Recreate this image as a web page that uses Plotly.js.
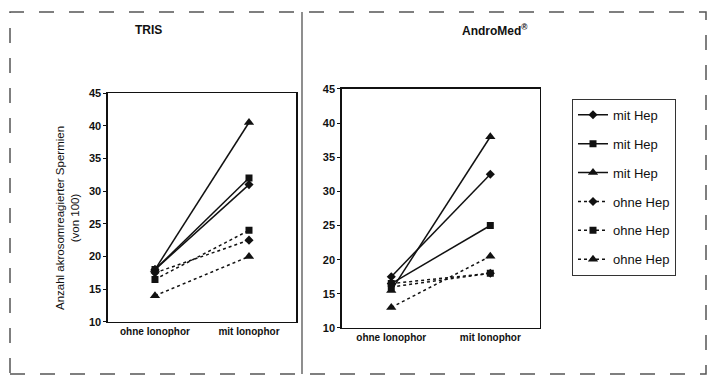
<!DOCTYPE html>
<html><head><meta charset="utf-8">
<script src="https://cdn.plot.ly/plotly-3.0.1.min.js"></script>
<style>body{margin:0;background:#fff}#c{width:715px;height:380px}</style>
</head><body><div id="c"></div>
<script>
const categories = ["ohne Ionophor", "mit Ionophor"];
const seriesNames = ["mit Hep", "mit Hep", "mit Hep", "ohne Hep", "ohne Hep", "ohne Hep"];
const trisValues = [
  [18, 31],
  [18, 32],
  [18, 40.5],
  [17.5, 22.5],
  [16.5, 24],
  [14, 20]
];
const andromedValues = [
  [17.5, 32.5],
  [16.5, 25],
  [15.5, 38],
  [16.5, 18],
  [16, 18],
  [13, 20.5]
];
const panelTitles = ["TRIS", "AndroMed<sup>®</sup>"];
const yTitle = "Anzahl akrosomreagierter Spermien<br>(von 100)";
const yTicks = [10, 15, 20, 25, 30, 35, 40, 45];

const symbols = ["diamond", "square", "triangle-up", "diamond", "square", "triangle-up"];
const msizes = [7, 7, 9, 7, 7, 9];
const dashes = ["solid", "solid", "solid", "dot", "dot", "dot"];
const FONT = "Liberation Sans, Arial, sans-serif";

const traces = [];
[trisValues, andromedValues].forEach((vals, p) => {
  vals.forEach((v, i) => {
    traces.push({
      x: categories, y: v, type: "scatter", mode: "lines+markers",
      name: seriesNames[i],
      xaxis: p === 0 ? "x" : "x2", yaxis: p === 0 ? "y" : "y2",
      line: {color: "#111", width: 1.5, dash: dashes[i]},
      marker: {symbol: symbols[i], size: msizes[i], color: "#111"},
      showlegend: p === 0,
      legendgroup: "g" + i
    });
  });
});

const axBase = {
  showgrid: false, zeroline: false, showline: true, mirror: true,
  linecolor: "#111", linewidth: 1.5,
  tickfont: {family: FONT, size: 11, color: "#111", weight: "bold"}
};

const layout = {
  width: 715, height: 380,
  margin: {l: 0, r: 0, t: 0, b: 0},
  paper_bgcolor: "#fff", plot_bgcolor: "#fff",
  font: {family: FONT, color: "#111"},
  xaxis: Object.assign({}, axBase, {domain: [0.151, 0.414], anchor: "y", range: [-0.5, 1.5], ticks: "", type: "category",
    tickfont: {family: FONT, size: 10, color: "#111", weight: "bold"}}),
  yaxis: Object.assign({}, axBase, {domain: [0.153, 0.755], anchor: "x", range: [10, 45], tickvals: yTicks, ticks: "outside", ticklen: 3, tickcolor: "#111"}),
  xaxis2: Object.assign({}, axBase, {domain: [0.478, 0.755], anchor: "y2", range: [-0.5, 1.5], ticks: "", type: "category",
    tickfont: {family: FONT, size: 10, color: "#111", weight: "bold"}}),
  yaxis2: Object.assign({}, axBase, {domain: [0.137, 0.766], anchor: "x2", range: [10, 45], tickvals: yTicks, ticks: "outside", ticklen: 3, tickcolor: "#111"}),
  legend: {
    x: 0.80, y: 0.74, xanchor: "left", yanchor: "top",
    bordercolor: "#333", borderwidth: 1,
    font: {family: FONT, size: 13, color: "#111"},
    tracegroupgap: 9, traceorder: "grouped"
  },
  annotations: [
    {text: panelTitles[0], x: 148, y: 30, showarrow: false, xanchor: "center", yanchor: "middle",
     font: {family: FONT, size: 12, weight: "bold"}},
    {text: panelTitles[1], x: 495, y: 30, showarrow: false, xanchor: "center", yanchor: "middle",
     font: {family: FONT, size: 12, weight: "bold"}},
    {text: yTitle, x: 67, y: 218, showarrow: false, textangle: -90, xanchor: "center", yanchor: "middle",
     font: {family: FONT, size: 11.5}}
  ].map(a => Object.assign(a, {xref: "paper", yref: "paper", x: a.x / 715, y: 1 - a.y / 380})),
  shapes: [
    {type: "rect", xref: "paper", yref: "paper", x0: 10/715, x1: 706/715, y0: 1 - 374/380, y1: 1 - 12/380,
     line: {color: "#555", width: 1.5, dash: "longdash"}},
    {type: "line", xref: "paper", yref: "paper", x0: 302/715, x1: 302/715, y0: 1 - 374/380, y1: 1 - 12/380,
     line: {color: "#444", width: 1.2}}
  ]
};

Plotly.newPlot("c", traces, layout, {staticPlot: true});
</script>
</body></html>
